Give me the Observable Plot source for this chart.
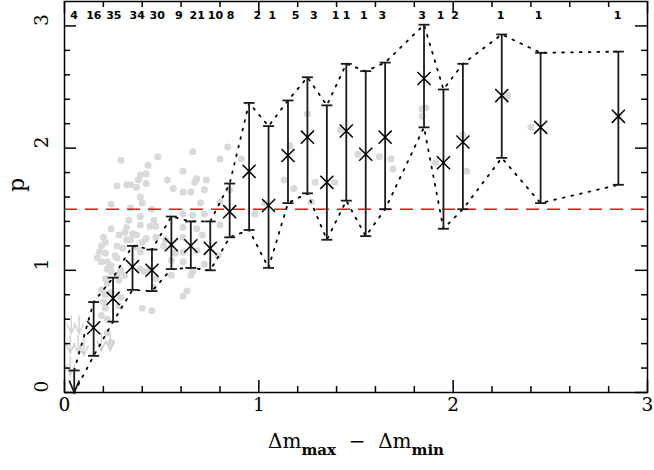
<!DOCTYPE html>
<html><head><meta charset="utf-8">
<script src="https://cdn.jsdelivr.net/npm/d3@7"></script>
<script src="https://cdn.jsdelivr.net/npm/@observablehq/plot@0.6"></script>
<style>body{margin:0;background:#fff}</style>
</head><body><div id="chart"></div>
<script>
// ---- binned measurements ----
const binX  = [0.15,0.25,0.35,0.45,0.55,0.65,0.75,0.85,0.95,1.05,1.15,1.25,1.35,1.45,1.55,1.65,1.85,1.95,2.05,2.25,2.45,2.85];
const pMean = [0.53,0.77,1.03,1.00,1.21,1.20,1.18,1.48,1.81,1.53,1.94,2.09,1.72,2.14,1.95,2.09,2.57,1.88,2.05,2.43,2.17,2.26];
const pHigh = [0.74,0.94,1.20,1.17,1.44,1.40,1.40,1.71,2.37,2.18,2.39,2.58,2.35,2.69,2.63,2.70,3.01,2.48,2.69,2.93,2.78,2.79];
const pLow  = [0.30,0.58,0.84,0.83,1.01,1.02,1.00,1.27,1.33,1.02,1.55,1.63,1.25,1.57,1.28,1.50,2.17,1.34,1.50,1.92,1.55,1.70];
// first bin: upper limit only
const limX = [0.05];
const limTop = [0.18];
const limBottom = [0];
// counts per bin (top labels)
const countX = [0.049,0.151,0.254,0.374,0.477,0.588,0.683,0.777,0.854,0.992,1.069,1.189,1.283,1.395,1.451,1.54,1.635,1.84,1.935,2.01,2.244,2.44,2.846];
const counts = [4,16,35,34,30,9,21,10,8,2,1,5,3,1,1,1,3,3,1,2,1,1,1];
// threshold
const threshold = [1.5];
// individual objects (gray)
const grayX = [0.29,0.48,0.43,0.53,0.42,0.39,0.38,0.42,0.27,0.32,0.34,0.37,0.56,0.39,0.40,0.24,0.34,0.45,0.33,0.39,0.46,0.32,0.39,0.44,0.47,0.24,0.31,0.35,0.20,0.28,0.37,0.42,0.47,0.21,0.32,0.34,0.40,0.52,0.51,0.19,0.27,0.30,0.37,0.39,0.18,0.21,0.26,0.27,0.17,0.19,0.22,0.24,
  0.22,0.24,0.27,0.29,0.31,0.28,0.39,0.41,0.44,0.47,0.46,0.21,0.22,0.19,0.21,0.24,0.20,0.21,0.22,0.19,0.22,0.24,0.40,0.45,0.29,0.28,
  0.66,0.84,0.80,0.61,0.68,0.67,0.73,0.72,0.61,0.65,0.85,0.70,0.80,0.61,0.66,0.72,0.98,0.61,0.68,0.80,0.61,0.71,0.57,0.61,0.68,0.61,0.72,0.79,0.55,
  0.55,0.65,0.66,0.63,0.61,
  0.91,1.13,1.18,1.16,1.25,1.27,1.29,1.39,1.42,1.51,1.62,1.68,1.69,1.03,1.84,1.86,1.84,1.91,2.05,2.07,2.28,2.40,2.85];
const grayY = [1.90,1.93,1.86,1.74,1.79,1.78,1.74,1.71,1.69,1.70,1.70,1.68,1.67,1.60,1.55,1.54,1.51,1.50,1.41,1.44,1.41,1.35,1.37,1.36,1.36,1.34,1.31,1.30,1.27,1.29,1.29,1.26,1.27,1.23,1.25,1.25,1.23,1.25,1.20,1.20,1.20,1.18,1.19,1.15,1.15,1.14,1.12,1.10,1.10,1.07,1.07,1.04,
  1.01,0.99,0.96,1.00,0.96,0.92,1.01,0.99,1.01,0.93,0.86,0.93,0.89,0.84,0.80,0.82,0.74,0.69,0.60,0.63,0.49,0.41,0.69,0.67,0.78,0.71,
  1.97,2.01,1.91,1.81,1.75,1.72,1.74,1.66,1.64,1.64,1.66,1.55,1.56,1.46,1.45,1.46,1.46,1.35,1.34,1.37,1.27,1.29,1.14,1.15,1.16,1.07,1.05,1.12,1.08,
  0.96,0.96,0.99,0.83,0.79,
  1.91,1.74,1.67,2.02,2.28,1.56,1.72,1.72,2.15,1.95,1.93,1.91,1.83,1.55,2.32,2.33,2.26,1.88,2.11,1.81,2.43,2.17,2.26];
// individual upper limits (gray arrows)
const grayLimX = [0.035,0.075,0.03,0.07,0.10,0.03,0.19,0.235];
const grayLimY = [0.63,0.63,0.47,0.47,0.45,0.29,0.49,0.49];
// axis ticks
const xTickLabels = [0,1,2,3];
const yTickLabels = [0,1,2,3];
const xLabelText = "Δm_max − Δm_min";
const yLabelText = "p";

// ---- layout ----
const W = 654, H = 470, mt = 1, mr = 7, mb = 78, ml = 64;
const innerW = W - ml - mr, innerH = H - mt - mb;
const serif = "DejaVu Serif";

const bins = binX.map((x,i)=>({x, mean:pMean[i], hi:pHigh[i], lo:pLow[i]}));
const env = [...limX.map((x,i)=>({x, hi:limTop[i], lo:limBottom[i]})), ...bins];
const gray = grayX.map((x,i)=>({x, y:grayY[i]}));
const grayLim = grayLimX.map((x,i)=>({x, y:grayLimY[i]}));
const lims = limX.map((x,i)=>({x, top:limTop[i], bottom:limBottom[i]}));

const hbar = {draw(ctx, size){ const r = Math.sqrt(size/Math.PI); ctx.moveTo(-r,0); ctx.lineTo(r,0); }};
const vHead = (w,h) => ({draw(ctx){ ctx.moveTo(-w,-h); ctx.lineTo(0,0); ctx.lineTo(w,-h); }});
const downArrow = (len,w,h) => ({draw(ctx){ ctx.moveTo(0,0); ctx.lineTo(0,len); ctx.moveTo(-w,len-h); ctx.lineTo(0,len); ctx.lineTo(w,len-h); }});

const xAll = d3.range(0, 3.0001, 0.2).map(v=>+v.toFixed(1));
const xMinor = xAll.filter(v=>!xTickLabels.includes(v));
const yAll = d3.range(0, 3.0001, 0.2).map(v=>+v.toFixed(1));
const yMinor = yAll.filter(v=>!yTickLabels.includes(v));
const tk = {stroke:"black", strokeWidth:1.5};

const chart = Plot.plot({
  width: W, height: H,
  marginTop: mt, marginRight: mr, marginBottom: mb, marginLeft: ml,
  x: {domain:[0,3], axis:null},
  y: {domain:[0,3.2], axis:null},
  style: {background:"white"},
  marks: [
    Plot.dot(gray, {x:"x", y:"y", r:3.5, fill:"#d9d9d9", stroke:"none"}),
    Plot.dot(grayLim, {x:"x", y:"y", symbol: downArrow(18,4.5,10), r:3, fill:"none", stroke:"#d2d2d2", strokeWidth:1.5}),
    Plot.ruleY(threshold, {y:d=>d, stroke:"#ee1111", strokeWidth:1.5, strokeDasharray:"13,8"}),
    Plot.line(env, {x:"x", y:"hi", stroke:"black", strokeWidth:1.8, strokeDasharray:"1.8,7"}),
    Plot.line(env, {x:"x", y:"lo", stroke:"black", strokeWidth:1.8, strokeDasharray:"1.8,7"}),
    Plot.ruleX(bins, {x:"x", y1:"lo", y2:"hi", stroke:"#1a1a1a", strokeWidth:1.8}),
    Plot.dot(bins, {x:"x", y:"hi", symbol:hbar, r:5.5, fill:"none", stroke:"#1a1a1a", strokeWidth:1.8}),
    Plot.dot(bins, {x:"x", y:"lo", symbol:hbar, r:5.5, fill:"none", stroke:"#1a1a1a", strokeWidth:1.8}),
    Plot.dot(bins, {x:"x", y:"mean", symbol:"times", r:6, fill:"none", stroke:"black", strokeWidth:1.5}),
    Plot.ruleX(lims, {x:"x", y1:"bottom", y2:"top", stroke:"#1a1a1a", strokeWidth:1.8}),
    Plot.dot(lims, {x:"x", y:"top", symbol:hbar, r:5.5, fill:"none", stroke:"#1a1a1a", strokeWidth:1.8}),
    Plot.dot(lims, {x:"x", y:"bottom", symbol:vHead(5,12), r:3, fill:"none", stroke:"#1a1a1a", strokeWidth:1.8}),
    // ticks (inward, all four sides)
    Plot.ruleX(xMinor, {x:d=>d, insetTop: innerH-6, ...tk}),
    Plot.ruleX(xTickLabels, {x:d=>d, insetTop: innerH-12, ...tk}),
    Plot.ruleX(xMinor, {x:d=>d, insetBottom: innerH-6, ...tk}),
    Plot.ruleX(xTickLabels, {x:d=>d, insetBottom: innerH-12, ...tk}),
    Plot.ruleY(yMinor, {y:d=>d, insetRight: innerW-6, ...tk}),
    Plot.ruleY(yTickLabels, {y:d=>d, insetRight: innerW-12, ...tk}),
    Plot.ruleY(yMinor, {y:d=>d, insetLeft: innerW-6, ...tk}),
    Plot.ruleY(yTickLabels, {y:d=>d, insetLeft: innerW-12, ...tk}),
    Plot.frame({stroke:"black", strokeWidth:1.5}),
    // counts
    Plot.text(countX, {x:d=>d, text:(d,i)=>String(counts[i]), frameAnchor:"top", dy:10, fontSize:11, fontWeight:"bold", fontFamily:"DejaVu Sans", fill:"black"}),
    // tick labels
    Plot.text(xTickLabels, {x:d=>d, text:d=>String(d), frameAnchor:"bottom", dy:18, fontSize:18.5, fontFamily:serif, fill:"black"}),
    Plot.text(yTickLabels, {y:d=>d, text:d=>String(d), frameAnchor:"left", dx:-22, rotate:-90, fontSize:18.5, fontFamily:serif, fill:"black"}),
    // axis labels
    Plot.text([yLabelText], {text:d=>d, frameAnchor:"left", dx:-48, dy:-5, rotate:-90, fontSize:22, fontFamily:serif, fill:"black"}),
    Plot.text([xLabelText], {text:d=>d, frameAnchor:"bottom", dy:55, fontSize:20, fontFamily:serif, fill:"black"})
  ]
});
document.getElementById("chart").appendChild(chart);

// subscripts in the x label
const ns = "http://www.w3.org/2000/svg";
chart.querySelectorAll("text").forEach(t => {
  if (t.textContent === xLabelText) {
    t.textContent = "";
    const add = (s, attrs={}) => { const ts = document.createElementNS(ns, "tspan"); ts.textContent = s; for (const k in attrs) ts.setAttribute(k, attrs[k]); t.appendChild(ts); };
    add("Δm");
    add("max", {dy:"7", "font-size":"15", "font-weight":"bold"});
    add("  −  Δm", {dy:"-7"});
    add("min", {dy:"7", "font-size":"15", "font-weight":"bold"});
  }
});
</script>
</body></html>
